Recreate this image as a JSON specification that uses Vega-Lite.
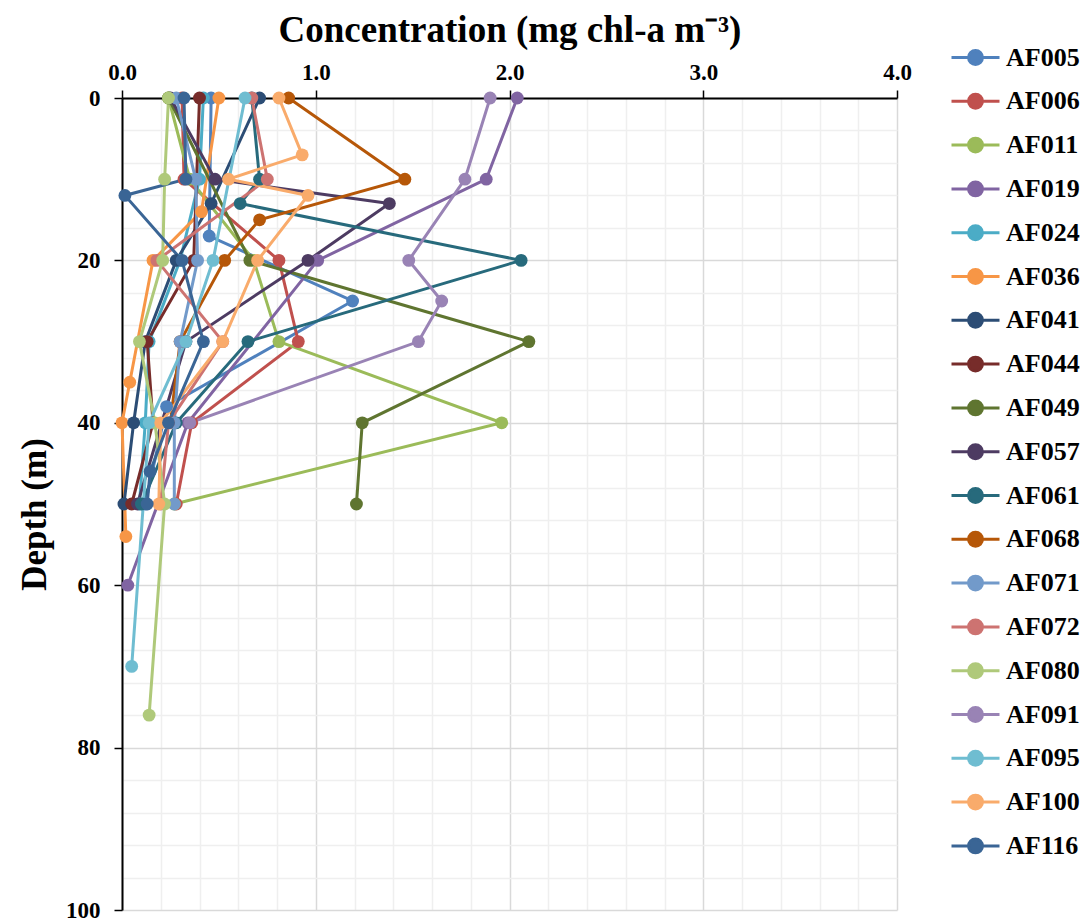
{
  "$schema": "https://vega.github.io/schema/vega-lite/v6.json",
  "width": 775,
  "height": 812,
  "autosize": "none",
  "padding": {"left": 122, "top": 98, "right": 187, "bottom": 12},
  "background": "white",
  "config": {"view": {"stroke": null}, "font": "Liberation Serif"},
  "data": {"values": [
    {"s":"AF005","d":0,"c":0.46},{"s":"AF005","d":17,"c":0.45},{"s":"AF005","d":25,"c":1.19},{"s":"AF005","d":38,"c":0.23},{"s":"AF005","d":50,"c":0.12},
    {"s":"AF006","d":0,"c":0.31},{"s":"AF006","d":10,"c":0.32},{"s":"AF006","d":20,"c":0.81},{"s":"AF006","d":30,"c":0.91},{"s":"AF006","d":40,"c":0.36},{"s":"AF006","d":50,"c":0.28},
    {"s":"AF011","d":0,"c":0.24},{"s":"AF011","d":10,"c":0.35},{"s":"AF011","d":20,"c":0.68},{"s":"AF011","d":30,"c":0.81},{"s":"AF011","d":40,"c":1.96},{"s":"AF011","d":50,"c":0.27},
    {"s":"AF019","d":0,"c":2.04},{"s":"AF019","d":10,"c":1.88},{"s":"AF019","d":20,"c":1.01},{"s":"AF019","d":40,"c":0.34},{"s":"AF019","d":60,"c":0.03},
    {"s":"AF024","d":0,"c":0.42},{"s":"AF024","d":10,"c":0.40},{"s":"AF024","d":20,"c":0.30},{"s":"AF024","d":30,"c":0.14},{"s":"AF024","d":40,"c":0.12},{"s":"AF024","d":50,"c":0.09},
    {"s":"AF036","d":0,"c":0.50},{"s":"AF036","d":14,"c":0.41},{"s":"AF036","d":20,"c":0.16},{"s":"AF036","d":35,"c":0.04},{"s":"AF036","d":40,"c":0.0},{"s":"AF036","d":54,"c":0.02},
    {"s":"AF041","d":0,"c":0.71},{"s":"AF041","d":13,"c":0.46},{"s":"AF041","d":20,"c":0.28},{"s":"AF041","d":30,"c":0.12},{"s":"AF041","d":40,"c":0.06},{"s":"AF041","d":50,"c":0.01},
    {"s":"AF044","d":0,"c":0.40},{"s":"AF044","d":20,"c":0.37},{"s":"AF044","d":30,"c":0.13},{"s":"AF044","d":40,"c":0.16},{"s":"AF044","d":50,"c":0.05},
    {"s":"AF049","d":0,"c":0.24},{"s":"AF049","d":20,"c":0.66},{"s":"AF049","d":30,"c":2.10},{"s":"AF049","d":40,"c":1.24},{"s":"AF049","d":50,"c":1.21},
    {"s":"AF057","d":0,"c":0.25},{"s":"AF057","d":10,"c":0.48},{"s":"AF057","d":13,"c":1.38},{"s":"AF057","d":20,"c":0.96},{"s":"AF057","d":30,"c":0.33},{"s":"AF057","d":50,"c":0.08},
    {"s":"AF061","d":0,"c":0.67},{"s":"AF061","d":10,"c":0.71},{"s":"AF061","d":13,"c":0.61},{"s":"AF061","d":20,"c":2.06},{"s":"AF061","d":30,"c":0.65},{"s":"AF061","d":40,"c":0.28},{"s":"AF061","d":50,"c":0.10},
    {"s":"AF068","d":0,"c":0.86},{"s":"AF068","d":10,"c":1.46},{"s":"AF068","d":15,"c":0.71},{"s":"AF068","d":20,"c":0.53},{"s":"AF068","d":30,"c":0.30},{"s":"AF068","d":40,"c":0.25},
    {"s":"AF071","d":0,"c":0.28},{"s":"AF071","d":10,"c":0.38},{"s":"AF071","d":20,"c":0.39},{"s":"AF071","d":30,"c":0.30},{"s":"AF071","d":40,"c":0.27},{"s":"AF071","d":50,"c":0.27},
    {"s":"AF072","d":0,"c":0.67},{"s":"AF072","d":10,"c":0.75},{"s":"AF072","d":20,"c":0.18},{"s":"AF072","d":30,"c":0.52},{"s":"AF072","d":40,"c":0.24},{"s":"AF072","d":50,"c":0.20},
    {"s":"AF080","d":0,"c":0.24},{"s":"AF080","d":10,"c":0.22},{"s":"AF080","d":20,"c":0.21},{"s":"AF080","d":30,"c":0.09},{"s":"AF080","d":40,"c":0.17},{"s":"AF080","d":50,"c":0.22},{"s":"AF080","d":76,"c":0.14},
    {"s":"AF091","d":0,"c":1.90},{"s":"AF091","d":10,"c":1.77},{"s":"AF091","d":20,"c":1.48},{"s":"AF091","d":25,"c":1.65},{"s":"AF091","d":30,"c":1.53},{"s":"AF091","d":40,"c":0.35},
    {"s":"AF095","d":0,"c":0.635},{"s":"AF095","d":20,"c":0.47},{"s":"AF095","d":30,"c":0.33},{"s":"AF095","d":40,"c":0.14},{"s":"AF095","d":70,"c":0.05},
    {"s":"AF100","d":0,"c":0.81},{"s":"AF100","d":7,"c":0.93},{"s":"AF100","d":10,"c":0.55},{"s":"AF100","d":12,"c":0.96},{"s":"AF100","d":20,"c":0.70},{"s":"AF100","d":30,"c":0.52},{"s":"AF100","d":40,"c":0.20},{"s":"AF100","d":50,"c":0.19},
    {"s":"AF116","d":0,"c":0.32},{"s":"AF116","d":10,"c":0.33},{"s":"AF116","d":12,"c":0.015},{"s":"AF116","d":20,"c":0.31},{"s":"AF116","d":30,"c":0.42},{"s":"AF116","d":40,"c":0.24},{"s":"AF116","d":46,"c":0.145},{"s":"AF116","d":50,"c":0.13}
  ]},
  "encoding": {
    "x": {
      "field": "c", "type": "quantitative",
      "scale": {"domain": [0, 4], "nice": false},
      "axis": {
        "orient": "top",
        "values": [0,0.2,0.4,0.6,0.8,1,1.2,1.4,1.6,1.8,2,2.2,2.4,2.6,2.8,3,3.2,3.4,3.6,3.8,4],
        "title": "Concentration (mg chl-a m⁻³)",
        "labelExpr": "datum.value % 1 === 0 ? format(datum.value, '.1f') : ''",
        "gridColor": {"condition": {"test": "datum.value % 1 === 0", "value": "#d9d9d9"}, "value": "#efefef"},
        "gridWidth": 1.5,
        "tickOpacity": {"condition": {"test": "datum.value % 1 === 0", "value": 1}, "value": 0},
        "domainColor": "black", "domainWidth": 2,
        "tickColor": "black", "tickWidth": 1.5, "tickSize": 8,
        "labelFont": "Liberation Serif", "labelFontWeight": "bold", "labelFontSize": 23, "labelColor": "black", "labelPadding": 6,
        "labelFlush": false, "labelOverlap": false,
        "titleFont": "Liberation Serif", "titleFontWeight": "bold", "titleFontSize": 37, "titleColor": "black", "titlePadding": 12
      }
    },
    "y": {
      "field": "d", "type": "quantitative",
      "scale": {"domain": [0, 100], "reverse": true, "nice": false},
      "axis": {
        "values": [0,4,8,12,16,20,24,28,32,36,40,44,48,52,56,60,64,68,72,76,80,84,88,92,96,100],
        "title": "Depth (m)",
        "titleY": 416,
        "labelExpr": "datum.value % 20 === 0 ? datum.label : ''",
        "gridColor": {"condition": {"test": "datum.value % 20 === 0", "value": "#d9d9d9"}, "value": "#efefef"},
        "gridWidth": 1.5,
        "tickOpacity": {"condition": {"test": "datum.value % 20 === 0", "value": 1}, "value": 0},
        "domainColor": "black", "domainWidth": 2,
        "tickColor": "black", "tickWidth": 1.5, "tickSize": 8,
        "labelFont": "Liberation Serif", "labelFontWeight": "bold", "labelFontSize": 23, "labelColor": "black", "labelPadding": 14,
        "labelFlush": false, "labelOverlap": false,
        "titleFont": "Liberation Serif", "titleFontWeight": "bold", "titleFontSize": 35, "titleColor": "black", "titlePadding": 13
      }
    },
    "color": {
      "field": "s", "type": "nominal",
      "scale": {
        "domain": ["AF005","AF006","AF011","AF019","AF024","AF036","AF041","AF044","AF049","AF057","AF061","AF068","AF071","AF072","AF080","AF091","AF095","AF100","AF116"],
        "range": ["#4F81BD","#C0504D","#9BBB59","#8064A2","#4BACC6","#F79646","#2C4D75","#772C2A","#5F7530","#4D3B62","#276A7C","#B65708","#729ACA","#CD7371","#AFC97A","#9983B5","#6FBDD1","#F9AB6B","#3A6595"]
      },
      "legend": {
        "title": null,
        "orient": "none",
        "legendX": 828,
        "legendY": -54,
        "direction": "vertical",
        "symbolType": "M-1,0L0.42,0M1.58,0L3,0M1.58,0A0.58,0.58 0 1 1 0.42,0A0.58,0.58 0 1 1 1.58,0Z",
        "symbolSize": 576,
        "symbolStrokeWidth": 3,
        "symbolOpacity": 1,
        "labelFont": "Liberation Serif", "labelFontWeight": "bold", "labelFontSize": 26, "labelColor": "black",
        "labelOffset": 29,
        "rowPadding": 16.8,
        "padding": 0,
        "encode": {"symbols": {"update": {"fill": {"scale": "color", "field": "value"}, "stroke": {"scale": "color", "field": "value"}}}}
      }
    },
    "order": {"field": "d", "type": "quantitative"}
  },
  "layer": [
    {"mark": {"type": "line", "strokeWidth": 3}},
    {"mark": {"type": "point", "filled": true, "size": 165, "opacity": 1}}
  ]
}
